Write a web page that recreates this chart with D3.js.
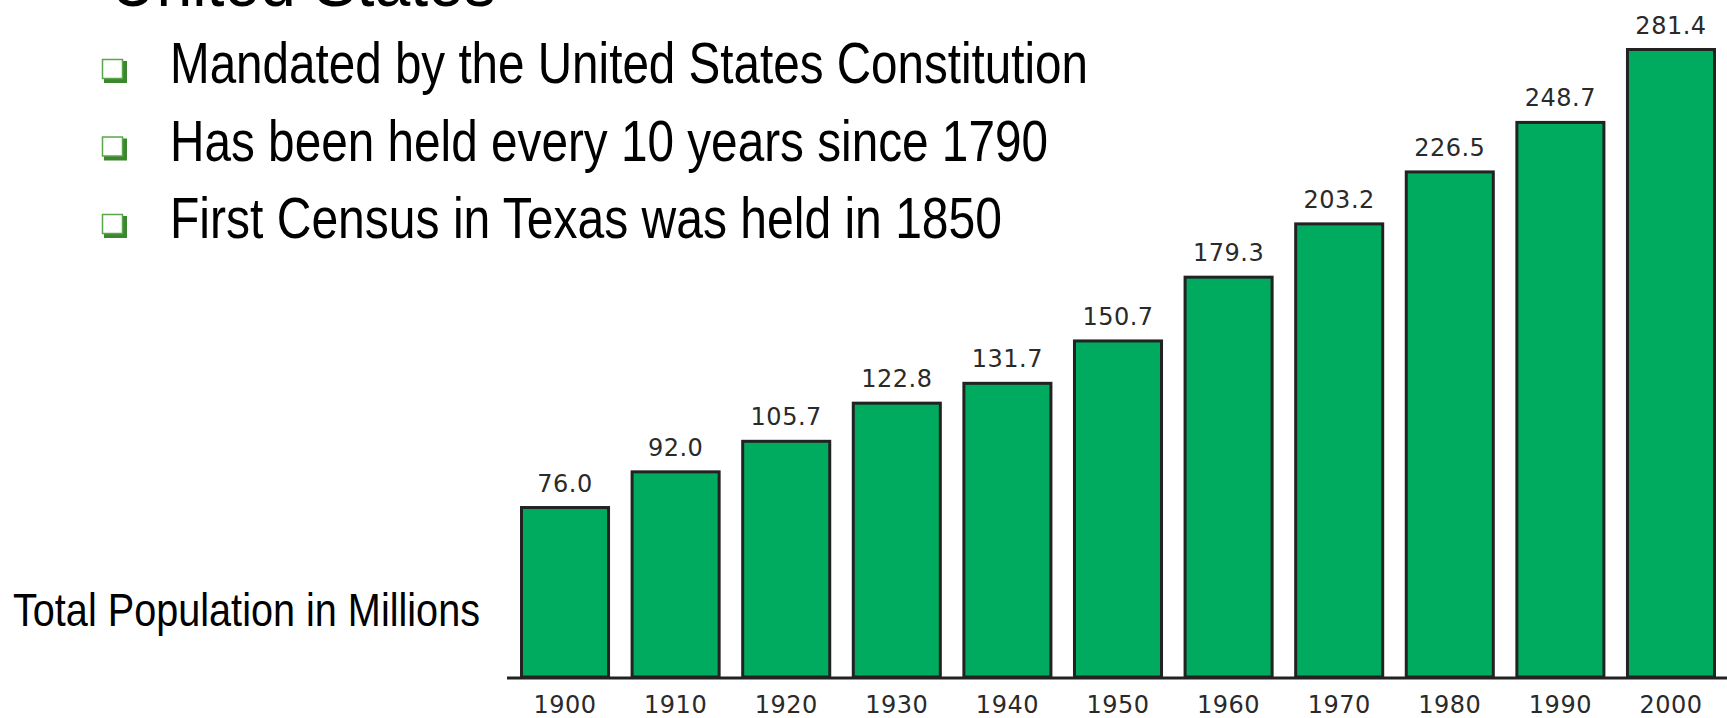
<!DOCTYPE html>
<html lang="en">
<head>
  <meta charset="UTF-8">
  <title>Total Population in Millions</title>
  <script src="https://d3js.org/d3.v7.min.js"></script>
  <style>
    body { margin: 0; background: #fff; }
    .narrow { font-family: "Liberation Sans Narrow", "Arial Narrow", "Liberation Sans", sans-serif; fill: #000; }
    .num { font-family: "DejaVu Sans", Verdana, sans-serif; font-size: 24px; fill: #2a2a2a; letter-spacing: 0.5px; }
  </style>
</head>
<body>
  <svg id="chart" width="1727" height="718"></svg>

  <script>
    // data
    const years = ["1900", "1910", "1920", "1930", "1940", "1950", "1960", "1970", "1980", "1990", "2000"];
    const population = [76.0, 92.0, 105.7, 122.8, 131.7, 150.7, 179.3, 203.2, 226.5, 248.7, 281.4];
    const heading = "United States";
    const bullets = [
      "Mandated by the United States Constitution",
      "Has been held every 10 years since 1790",
      "First Census in Texas was held in 1850"
    ];
    const sideLabel = "Total Population in Millions";

    const svg = d3.select("#chart");
    const baseY = 677;

    const x = d3.scaleBand()
      .domain(years)
      .range([521.5, 1714.5])
      .paddingInner(0.213)
      .paddingOuter(0);

    const y = d3.scaleLinear()
      .domain([0, 281.4])
      .range([baseY, 49.5]);

    // slide text
    svg.append("text")
      .attr("class", "narrow")
      .attr("x", 110)
      .attr("y", 6)
      .attr("font-size", 70)
      .attr("textLength", 386)
      .attr("lengthAdjust", "spacingAndGlyphs")
      .text(heading);

    const widths = [918, 878, 832];
    const items = svg.selectAll(".bullet")
      .data(bullets)
      .join("g")
      .attr("class", "bullet")
      .attr("transform", (d, i) => `translate(0, ${83 + i * 77.5})`);

    items.append("rect")
      .attr("x", 104).attr("y", -22)
      .attr("width", 23).attr("height", 22)
      .attr("fill", "#3b862f");
    items.append("rect")
      .attr("x", 102.5).attr("y", -23.5)
      .attr("width", 20).attr("height", 19)
      .attr("fill", "#fff")
      .attr("stroke", "#5aa64a")
      .attr("stroke-width", 1.5);

    items.append("text")
      .attr("class", "narrow")
      .attr("x", 170)
      .attr("y", 0)
      .attr("font-size", 57)
      .attr("textLength", (d, i) => widths[i])
      .attr("lengthAdjust", "spacingAndGlyphs")
      .text(d => d);

    svg.append("text")
      .attr("class", "narrow")
      .attr("x", 13)
      .attr("y", 626)
      .attr("font-size", 47)
      .attr("textLength", 467)
      .attr("lengthAdjust", "spacingAndGlyphs")
      .text(sideLabel);

    // bars
    const rows = years.map((yr, i) => ({ year: yr, value: population[i] }));

    svg.selectAll(".bar")
      .data(rows)
      .join("rect")
      .attr("class", "bar")
      .attr("x", d => x(d.year))
      .attr("y", d => y(d.value))
      .attr("width", x.bandwidth())
      .attr("height", d => baseY - y(d.value))
      .attr("fill", "#00ab5f")
      .attr("stroke", "#222")
      .attr("stroke-width", 3);

    svg.selectAll(".val")
      .data(rows)
      .join("text")
      .attr("class", "num val")
      .attr("x", d => x(d.year) + x.bandwidth() / 2)
      .attr("y", d => y(d.value) - 16)
      .attr("text-anchor", "middle")
      .text(d => d.value.toFixed(1));

    // axis
    svg.append("line")
      .attr("x1", 507).attr("x2", 1727)
      .attr("y1", 678).attr("y2", 678)
      .attr("stroke", "#222")
      .attr("stroke-width", 3);

    const axis = svg.append("g")
      .attr("transform", `translate(0, ${baseY})`)
      .call(d3.axisBottom(x).tickSize(0));
    axis.select(".domain").remove();
    axis.selectAll("text")
      .attr("class", "num")
      .attr("y", 36)
      .attr("dy", null)
      .attr("font-size", null)
      .attr("font-family", null);
    axis.attr("font-size", null).attr("font-family", null);
  </script>
</body>
</html>
